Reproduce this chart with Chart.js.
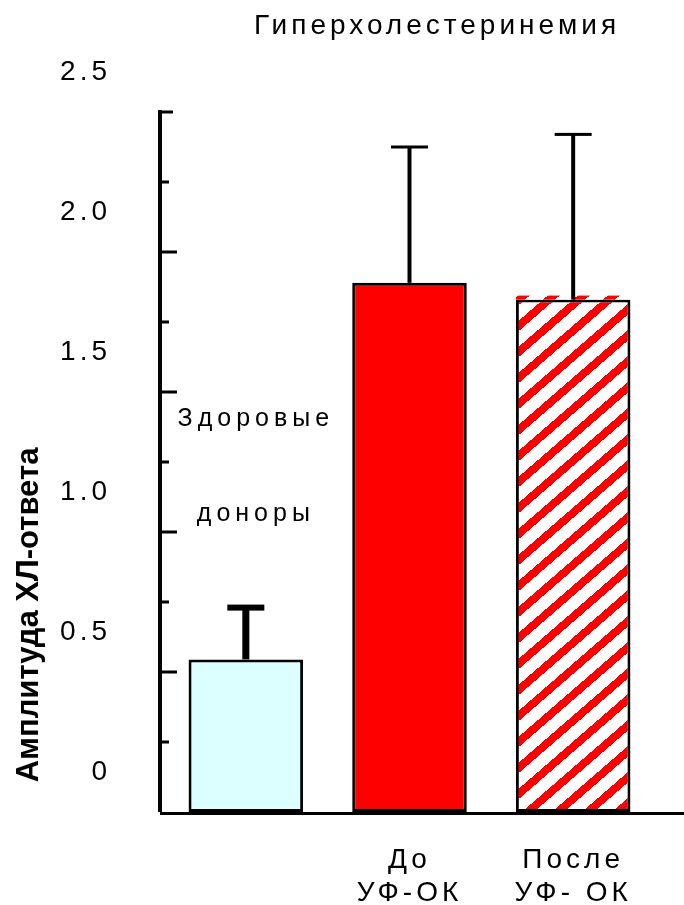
<!DOCTYPE html>
<html lang="ru">
<head>
<meta charset="utf-8">
<title>Гиперхолестеринемия</title>
<script src="https://cdn.jsdelivr.net/npm/chart.js@4.4.1/dist/chart.umd.min.js"></script>
<style>
  html, body { margin: 0; padding: 0; background: #fff; overflow: hidden; }
  canvas { display: block; }
</style>
</head>
<body>
<canvas id="chart" width="684" height="905"></canvas>
<script>
// Groups, one entry per bar (label lines)
const categories = [['Здоровые', 'доноры'], ['До', 'УФ-ОК'], ['После', 'УФ- ОК']];
// Mean amplitude of the chemiluminescence response
const amplitude = [0.545, 1.89, 1.83];
// Upper error for each bar
const amplitudeError = [0.185, 0.485, 0.59];
// Value axis
const yTicks = [0, 0.5, 1.0, 1.5, 2.0, 2.5];
const yTickLabels = ['0', '0.5', '1.0', '1.5', '2.0', '2.5'];
const yMinorStep = 0.25;
const chartTitle = 'Гиперхолестеринемия';
const yTitle = 'Амплитуда ХЛ-ответа';

const FONT = "'Liberation Sans', Arial, sans-serif";
const canvas = document.getElementById('chart');
const ctx = canvas.getContext('2d');

// Red diagonal hatching on white, drawn pixel by pixel for crisp steps
function makeHatch(context) {
  const w = 30, h = 26;
  const tile = document.createElement('canvas');
  tile.width = w; tile.height = h;
  const g = tile.getContext('2d');
  const img = g.createImageData(w, h);
  for (let y = 0; y < h; y++) {
    for (let x = 0; x < w; x++) {
      const p = (((x + 0.5) / w + (y + 0.5) / h + 0.375) % 1);
      const red = p < 0.4;
      const i = (y * w + x) * 4;
      img.data[i] = 255;
      img.data[i + 1] = red ? 0 : 255;
      img.data[i + 2] = red ? 0 : 255;
      img.data[i + 3] = 255;
    }
  }
  g.putImageData(img, 0, 0);
  return context.createPattern(tile, 'repeat');
}
const hatch = makeHatch(ctx);

const decorations = {
  id: 'decorations',
  beforeDraw(chart) {
    chart.ctx.letterSpacing = '4px';
  },
  afterDatasetsDraw(chart, args, opts) {
    const c = chart.ctx;
    const yScale = chart.scales.y;
    const meta = chart.getDatasetMeta(0);
    c.save();
    // hatch fill showing just above the outline of the last bar
    const hb = meta.data[2];
    c.fillStyle = hatch;
    c.fillRect(hb.x - hb.width / 2, hb.y - 4, hb.width, 4);
    // error bars
    c.fillStyle = '#000';
    meta.data.forEach((bar, i) => {
      const top = yScale.getPixelForValue(amplitude[i] + amplitudeError[i]);
      const sw = opts.stemWidth[i], ch = opts.capHeight[i];
      c.fillRect(bar.x - sw / 2, top, sw, bar.y - top);
      c.fillRect(bar.x - opts.capWidth / 2, top - ch / 2, opts.capWidth, ch);
    });
    c.restore();
  },
  afterDraw(chart, args, opts) {
    const c = chart.ctx;
    const area = chart.chartArea;
    const yScale = chart.scales.y;
    const xScale = chart.scales.x;
    c.save();
    c.fillStyle = '#000';
    // axis lines
    c.fillRect(area.left - 6, area.top - 2, 4, area.bottom - area.top + 2);
    c.fillRect(area.left - 4, area.bottom, chart.width - area.left + 4, 3);
    // tick marks, pointing into the plot
    const max = yScale.max;
    for (let v = yMinorStep; v <= max + 1e-9; v += yMinorStep) {
      const y = yScale.getPixelForValue(v);
      const major = Math.abs(v / 0.5 - Math.round(v / 0.5)) < 1e-6;
      const len = Math.abs(v - max) < 1e-9 ? 11 : (major ? 15 : 7);
      c.fillRect(area.left - 2, y - 1.5, len, 3);
    }
    // title
    c.font = '28px ' + FONT;
    c.letterSpacing = '4px';
    c.textAlign = 'left';
    c.textBaseline = 'alphabetic';
    c.fillText(chartTitle, 254, 34);
    // first group label, written inside the plot
    c.font = '25px ' + FONT;
    c.letterSpacing = '5px';
    c.textAlign = 'center';
    const cx = xScale.getPixelForValue(0) + 10;
    categories[0].forEach((line, k) => {
      c.fillText(line, cx, yScale.getPixelForValue(opts.groupLabelLevels[k]));
    });
    // value axis title
    c.translate(38, 615);
    c.rotate(-Math.PI / 2);
    c.font = 'bold 31px ' + FONT;
    c.letterSpacing = '0px';
    c.textAlign = 'center';
    c.fillText(yTitle, 0, 0);
    c.restore();
  }
};

new Chart(ctx, {
  type: 'bar',
  data: {
    labels: categories,
    datasets: [{
      data: amplitude,
      backgroundColor: ['#dcffff', '#ff0000', hatch],
      borderColor: '#000',
      borderWidth: 3,
      borderSkipped: false,
      barPercentage: 0.7,
      categoryPercentage: 1
    }]
  },
  options: {
    responsive: false,
    animation: false,
    devicePixelRatio: 1,
    layout: { padding: { top: 112, right: 29, bottom: 0, left: 0 } },
    plugins: {
      legend: { display: false },
      title: { display: false },
      tooltip: { enabled: false },
      decorations: {
        stemWidth: [7, 4, 4],
        capHeight: [6, 3, 3],
        capWidth: 37,
        groupLabelLevels: [1.38, 1.04]
      }
    },
    scales: {
      x: {
        grid: { display: false, drawTicks: false },
        border: { display: false },
        ticks: {
          color: '#000',
          font: { family: FONT, size: 28 },
          padding: 31,
          maxRotation: 0,
          autoSkip: false,
          callback: (v, i) => (i === 0 ? '' : categories[i])
        },
        afterFit: (s) => { s.height = 93; }
      },
      y: {
        min: 0,
        max: 2.5,
        grid: { display: false, drawTicks: false },
        border: { display: false },
        afterBuildTicks: (s) => { s.ticks = yTicks.map((v) => ({ value: v })); },
        ticks: {
          color: '#000',
          font: { family: FONT, size: 28 },
          padding: 53,
          labelOffset: -40,
          callback: (v, i) => yTickLabels[i]
        },
        afterFit: (s) => { s.width = 164; }
      }
    }
  },
  plugins: [decorations]
});
</script>
</body>
</html>
